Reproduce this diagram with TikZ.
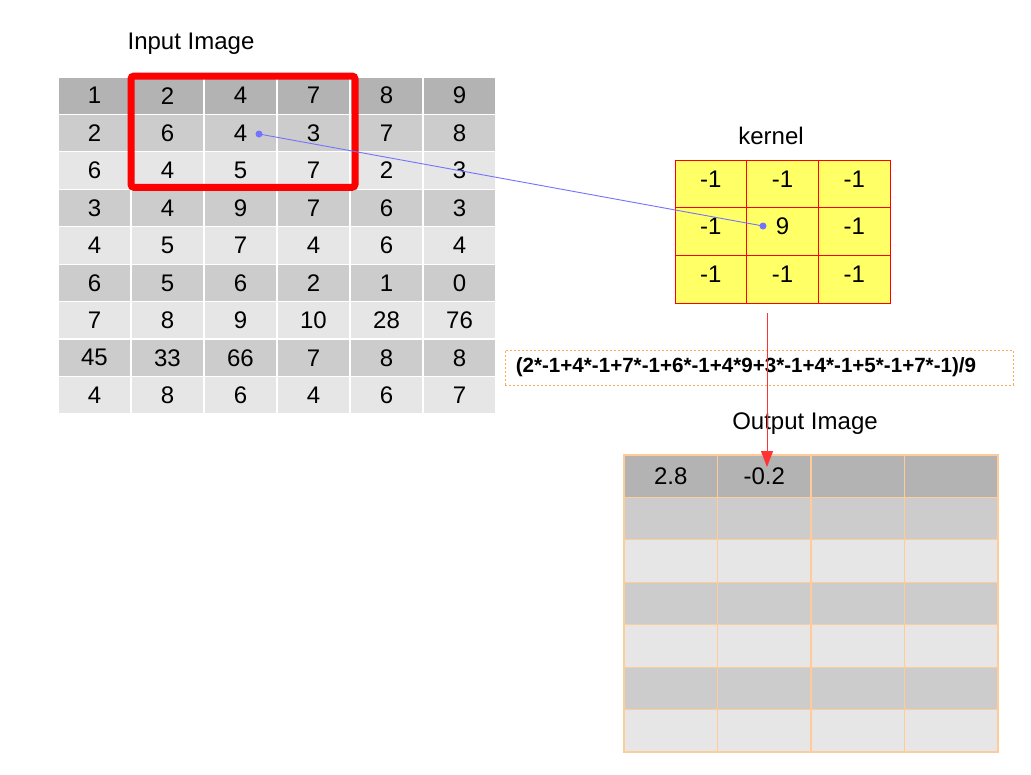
\documentclass[tikz,border=0pt]{standalone}
\usepackage{fontspec}
\setmainfont{Liberation Sans}
\usetikzlibrary{arrows.meta}
\definecolor{hdr}{HTML}{B3B3B3}
\definecolor{dk}{HTML}{CCCCCC}
\definecolor{lt}{HTML}{E6E6E6}
\definecolor{kfill}{HTML}{FFFF66}
\definecolor{obord}{HTML}{FFCC99}
\definecolor{fbord}{HTML}{FFAA55}
\definecolor{bluec}{HTML}{7373FF}
\definecolor{arrred}{HTML}{FF3333}
\begin{document}
\begin{tikzpicture}[x=1pt,y=-1pt,font=\fontsize{24}{28}\selectfont,
  incell/.style={draw=white,line width=1.2pt,minimum width=73pt,minimum height=37.44pt,inner sep=0pt,outer sep=0pt},
  kcell/.style={draw=red,fill=kfill,line width=0.9pt,minimum width=71.67pt,minimum height=47.67pt,inner sep=0pt,outer sep=0pt,text depth=10pt},
  ocell/.style={draw=obord,line width=1.2pt,minimum width=93.5pt,minimum height=42.43pt,inner sep=0pt,outer sep=0pt},
  label/.style={inner sep=0pt},
  formula/.style={draw=fbord,dash pattern=on 2pt off 2pt,line width=0.9pt,minimum width=508pt,minimum height=35pt,inner sep=0pt},
  ftext/.style={inner sep=0pt,font=\fontsize{20.6}{24}\selectfont\bfseries},
  selbox/.style={draw=red,line width=7pt,rounded corners=3pt},
  probe/.style={draw=bluec,line width=0.9pt},
  dot/.style={fill=bluec},
  flow/.style={draw=arrred,line width=1pt,-{Triangle[width=12pt,length=16pt]}}]
\useasboundingbox (0,0) rectangle (1031,774);
\fill[white] (0,0) rectangle (1031,774);
% input image
\node[label] (inlabel) at (191,44) {Input Image};
\foreach \r/\fc/\row in {1/hdr/{1,2,4,7,8,9},2/dk/{2,6,4,3,7,8},3/lt/{6,4,5,7,2,3},4/dk/{3,4,9,7,6,3},5/lt/{4,5,7,4,6,4},6/dk/{6,5,6,2,1,0},7/lt/{7,8,9,10,28,76},8/dk/{45,33,66,7,8,8},9/lt/{4,8,6,4,6,7}}{
  \foreach \v [count=\c] in \row {
    \node[incell,fill=\fc] (in-\r-\c) at ({58+73*(\c-0.5)},{77+37.44*(\r-0.5)}) {\v};
  }
}
\draw[selbox] ([shift={(0,-1)}]in-1-2.north west) rectangle ([shift={(5,-2)}]in-3-4.south east);
% kernel
\node[label] (klabel) at (771,136) {kernel};
\foreach \r/\row in {1/{-1,-1,-1},2/{-1,9,-1},3/{-1,-1,-1}}{
  \foreach \v [count=\c] in \row {
    \node[kcell] (k-\r-\c) at ({675+71.67*(\c-0.5)},{160+47.67*(\r-0.5)}) {\v};
  }
}
% formula
\node[formula] (formula) at (759,367.5) {};
\node[ftext] (ftext) at (746,367.5) {(2*-1+4*-1+7*-1+6*-1+4*9+3*-1+4*-1+5*-1+7*-1)/9};
% output image
\node[label] (olabel) at (805,424) {Output Image};
\foreach \r/\fc in {1/hdr,2/dk,3/lt,4/dk,5/lt,6/dk,7/lt}{
  \foreach \c in {1,2,3,4}{
    \node[ocell,fill=\fc] (o-\r-\c) at ({624+93.5*(\c-0.5)},{455+42.43*(\r-0.5)}) {};
  }
}
\node at (o-1-1) {2.8};
\node at (o-1-2) {-0.2};
% connectors
\coordinate (b0) at (259,134);
\coordinate (b1) at (763,226);
\draw[probe] (b0) -- (b1);
\fill[dot] (b0) circle (3.5pt);
\fill[dot] (b1) circle (3.5pt);
\coordinate (a0) at (767,313);
\coordinate (a1) at (767,467);
\draw[flow] (a0) -- (a1);
\end{tikzpicture}
\end{document}
